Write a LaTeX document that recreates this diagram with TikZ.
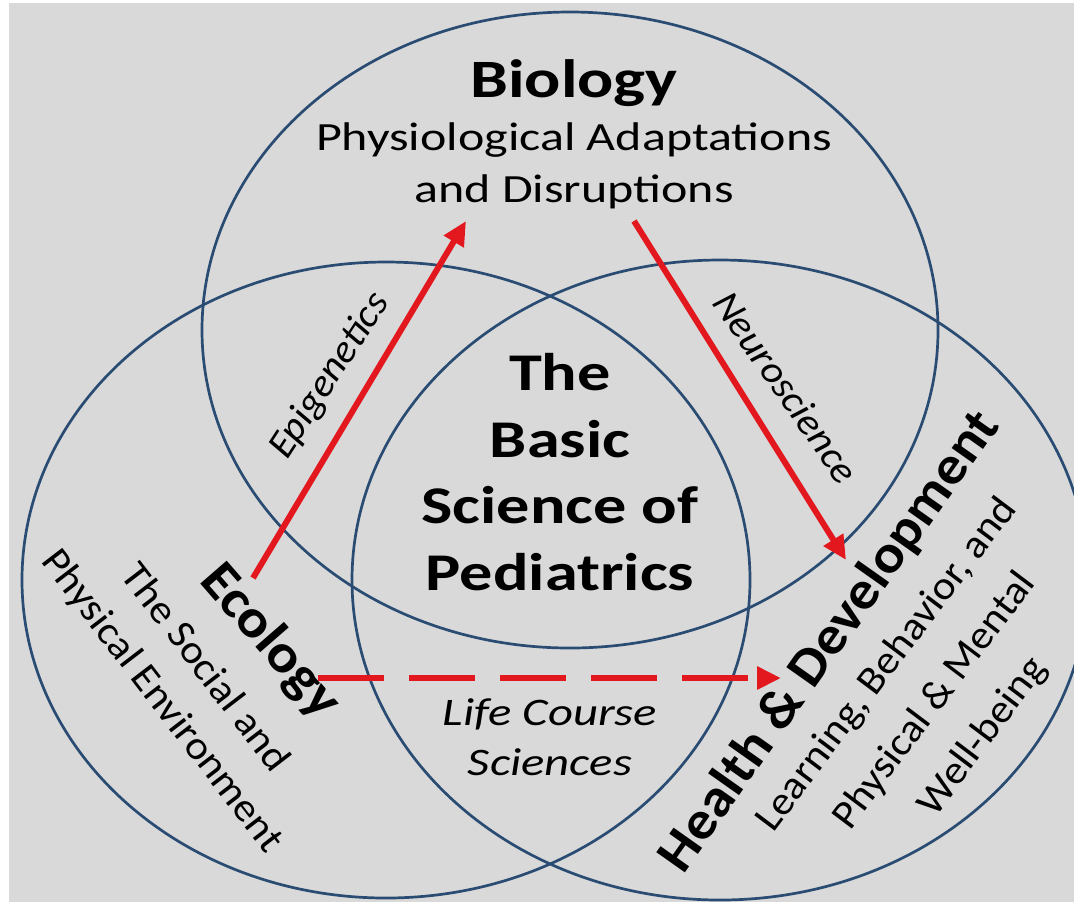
\documentclass[tikz,border=0pt]{standalone}
\usepackage{fontspec}
\setmainfont{Carlito}
\usetikzlibrary{arrows.meta}
\definecolor{backgray}{RGB}{217,217,217}
\definecolor{vennblue}{RGB}{42,76,115}
\definecolor{linkred}{RGB}{226,24,30}
\tikzset{every scope/.style={>={Triangle[length=12pt,width=11pt]}}}
\tikzstyle{venn} =
  [ draw=vennblue
  , line width=1.35pt
  ]
\tikzstyle{heading} =
  [ font=\bfseries\fontsize{27}{32}\selectfont
  , inner sep=0pt
  ]
\tikzstyle{subheading} =
  [ font=\fontsize{20}{26}\selectfont
  , align=center
  , inner sep=0pt
  ]
\tikzstyle{core} =
  [ font=\bfseries\fontsize{26.5}{33.3}\selectfont
  , align=center
  , inner sep=0pt
  ]
\tikzstyle{science_label} =
  [ font=\itshape\fontsize{19.5}{25}\selectfont
  , align=center
  , inner sep=0pt
  ]
\tikzstyle{link_arrow} =
  [ draw=linkred
  , line width=3pt
  , ->
  ]

\begin{document}
\begin{tikzpicture}[x=0.5pt, y=-0.5pt]
    \useasboundingbox (0,0) rectangle (1074,902);
    \fill[white]    (0,0) rectangle (1074,902);
    \fill[backgray] (9,3) rectangle (1074,902);

    % The three circles
    \draw[venn] (570,330) ellipse [x radius=368, y radius=318];
    \draw[venn] (386,580) ellipse [x radius=364, y radius=318];
    \draw[venn] (720,580) ellipse [x radius=368, y radius=320];

    % Biology
    \node[heading, xscale=1.25]    (biology)     at (574,83)  {Biology};
    \node[subheading, xscale=1.25] (biology_sub) at (574,166) {Physiological Adaptations\\and Disruptions};

    % Centre
    \node[core, xscale=1.25] (basic_science) at (560,472) {The\\Basic\\Science of\\Pediatrics};

    % Ecology
    \node[rotate=-49, heading, xscale=1.09] (ecology) at (270,642) {Ecology};
    \node[rotate=-52.5, subheading, xscale=1.07, font=\fontsize{20}{27}\selectfont]
      (ecology_sub) at (183,685) {The Social and\\Physical Environment};

    % Health and development
    \node[rotate=54.8, heading, xscale=1.07] (health) at (830,642) {Health \& Development};
    \node[rotate=53, subheading, xscale=1.07, font=\fontsize{20}{30}\selectfont]
      (health_sub) at (935,701) {Learning, Behavior, and\\Physical \& Mental\\Well-being};

    % Sciences between the fields
    \node[rotate=57, science_label, xscale=1.06]  (epigenetics)  at (330,376) {Epigenetics};
    \node[rotate=-55, science_label, xscale=1.06] (neuroscience) at (786,387) {Neuroscience};
    \node[science_label, xscale=1.25]             (life_course)  at (550,737) {Life Course\\Sciences};

    \coordinate (ecology_up)    at (253,578);
    \coordinate (biology_in)    at (466,221);
    \coordinate (biology_out)   at (634,221);
    \coordinate (health_in)     at (846,560);
    \coordinate (ecology_right) at (318,678);
    \coordinate (health_left)   at (781,678);

    \draw[link_arrow] (ecology_up)  -- (biology_in);
    \draw[link_arrow] (biology_out) -- (health_in);
    \draw[link_arrow, dash pattern=on 33pt off 12.5pt] (ecology_right) -- (health_left);
\end{tikzpicture}
\end{document}
